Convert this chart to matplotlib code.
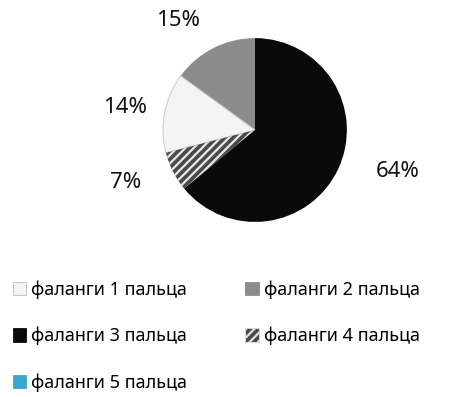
import numpy as np
import matplotlib.pyplot as plt
from matplotlib.patches import Patch

plt.rcParams['font.family'] = ['Noto Sans', 'DejaVu Sans']
plt.rcParams['hatch.linewidth'] = 1.6

# доли фаланг по пальцам, %
labels = ['фаланги 1 пальца', 'фаланги 2 пальца', 'фаланги 3 пальца',
          'фаланги 4 пальца', 'фаланги 5 пальца']
values = [14, 15, 64, 7, 0]
pct_text = ['14%', '15%', '64%', '7%']

colors = ['#f4f4f4', '#8c8c8c', '#0a0a0a', '#4a4a4a', '#3aa6d0']
hatches = [None, None, None, '////', None]
# порядок секторов против часовой стрелки от 12 часов
order = [1, 0, 3, 2]
# положение подписей: радиус и сдвиг угла от середины сектора
label_r = [1.43, 1.46, 1.62, 1.52]
label_dang = [1, 8, 9, -5]

fig = plt.figure(figsize=(4.64, 3.97), dpi=100)
ax = fig.add_axes([0.351, 0.441, 0.397, 0.463])

wedges, _ = ax.pie([values[i] for i in order], colors=[colors[i] for i in order],
                   startangle=90, counterclock=True, radius=1,
                   wedgeprops=dict(linewidth=0))
for w, i in zip(wedges, order):
    if hatches[i]:
        w.set_hatch(hatches[i])
        w.set_edgecolor('#e8e8e8')
        w.set_linewidth(0)
    if i == 0:
        w.set_edgecolor('#cfcfcf')
        w.set_linewidth(0.8)
    mid = np.deg2rad((w.theta1 + w.theta2) / 2 + label_dang[i])
    r = label_r[i]
    ax.text(r * np.cos(mid), r * np.sin(mid), pct_text[i], ha='center', va='center',
            fontsize=16, color='#111111')
ax.set_xlim(-1, 1)
ax.set_ylim(-1, 1)
ax.set_aspect('equal')
ax.axis('off')

handles = [Patch(facecolor=c, edgecolor='#bbbbbb' if k == 0 else c,
                 hatch=h, linewidth=0.6)
           for k, (c, h) in enumerate(zip(colors, hatches))]
handles[3].set_edgecolor('#e0e0e0')
# легенда заполняется по столбцам, поэтому переставляем элементы построчно
leg_order = [0, 2, 4, 1, 3]
fig.legend([handles[k] for k in leg_order], [labels[k] for k in leg_order],
           ncol=2, loc='upper left', bbox_to_anchor=(-0.008, 0.335),
           frameon=False, fontsize=13, handlelength=0.75, handleheight=0.75,
           handletextpad=0.3, labelspacing=1.55, columnspacing=3.2)

fig.savefig('out.png', dpi=100)
